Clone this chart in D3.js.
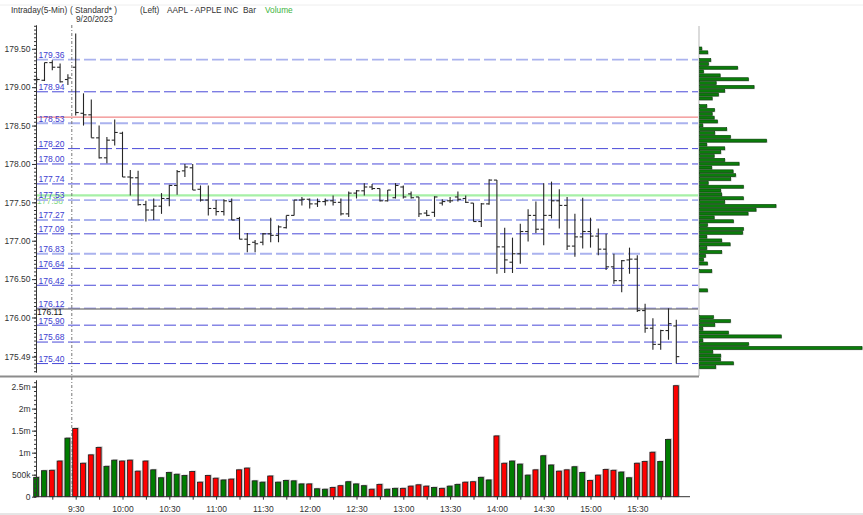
<!DOCTYPE html>
<html><head><meta charset="utf-8">
<script src="https://cdn.jsdelivr.net/npm/d3@7"></script>
<style>body{margin:0;background:#fff;} svg{display:block;font-family:"Liberation Sans",Arial,sans-serif;}</style>
</head><body><svg id="c" width="863" height="515"></svg>
<script>
// ---------- DATA ----------
const times = ("9:05 9:10 9:15 9:20 9:25 9:30 9:35 9:40 9:45 9:50 9:55 " +
 "10:00 10:05 10:10 10:15 10:20 10:25 10:30 10:35 10:40 10:45 10:50 10:55 " +
 "11:00 11:05 11:10 11:15 11:20 11:25 11:30 11:35 11:40 11:45 11:50 11:55 " +
 "12:00 12:05 12:10 12:15 12:20 12:25 12:30 12:35 12:40 12:45 12:50 12:55 " +
 "13:00 13:05 13:10 13:15 13:20 13:25 13:30 13:35 13:40 13:45 13:50 13:55 " +
 "14:00 14:05 14:10 14:15 14:20 14:25 14:30 14:35 14:40 14:45 14:50 14:55 " +
 "15:00 15:05 15:10 15:15 15:20 15:25 15:30 15:35 15:40 15:45 15:50 15:55").split(" ");
const open = [179.10,179.09,179.32,179.26,179.10,179.26,178.66,178.64,178.34,178.08,178.31,178.40,177.83,177.82,177.47,177.40,177.45,177.55,177.72,177.91,177.95,177.67,177.53,177.42,177.38,177.51,177.29,177.02,176.98,176.98,177.09,177.07,177.17,177.33,177.53,177.54,177.48,177.51,177.52,177.50,177.35,177.62,177.65,177.70,177.68,177.52,177.56,177.70,177.61,177.57,177.36,177.37,177.49,177.52,177.57,177.55,177.49,177.25,177.48,177.79,176.92,176.72,176.83,177.12,177.33,177.15,177.33,177.52,177.46,176.93,177.05,177.12,177.06,176.89,176.66,176.48,176.75,176.76,176.09,175.86,175.65,175.83,175.89];
const high = [179.13,179.32,179.35,179.31,179.17,179.70,178.92,178.84,178.50,178.35,178.58,178.42,177.92,177.91,177.52,177.55,177.62,177.73,177.92,178.00,178.00,177.72,177.72,177.53,177.54,177.55,177.31,177.10,177.01,177.10,177.30,177.20,177.33,177.53,177.57,177.55,177.55,177.55,177.59,177.55,177.64,177.66,177.75,177.74,177.68,177.66,177.75,177.72,177.64,177.57,177.40,177.58,177.54,177.57,177.64,177.59,177.49,177.49,177.80,177.79,177.17,177.04,177.22,177.41,177.51,177.75,177.77,177.67,177.57,177.35,177.56,177.30,177.16,177.09,176.83,176.75,176.91,176.81,176.18,175.99,175.84,176.12,175.97];
const low = [179.06,179.08,179.22,179.06,179.03,178.63,178.50,178.34,178.07,178.01,178.24,177.83,177.59,177.46,177.25,177.27,177.35,177.45,177.60,177.83,177.66,177.51,177.33,177.33,177.33,177.27,177.02,176.85,176.85,176.94,176.98,176.98,177.16,177.33,177.46,177.42,177.44,177.46,177.46,177.33,177.31,177.55,177.59,177.66,177.51,177.51,177.55,177.55,177.55,177.31,177.32,177.31,177.46,177.49,177.51,177.49,177.25,177.18,177.47,176.57,176.58,176.58,176.70,176.99,177.10,176.94,177.29,177.16,176.88,176.79,176.90,176.91,176.81,176.62,176.44,176.33,176.57,176.07,175.80,175.58,175.58,175.71,175.40];
const close = [179.10,179.32,179.26,179.07,179.12,178.67,178.64,178.34,178.08,178.31,178.41,177.83,177.82,177.47,177.40,177.45,177.55,177.72,177.90,177.96,177.66,177.53,177.42,177.38,177.52,177.27,177.02,176.95,176.96,177.09,177.07,177.18,177.33,177.53,177.54,177.48,177.51,177.52,177.50,177.35,177.62,177.65,177.70,177.68,177.52,177.66,177.72,177.57,177.56,177.35,177.33,177.57,177.51,177.52,177.54,177.50,177.25,177.48,177.79,176.92,176.75,176.83,177.12,177.33,177.15,177.33,177.52,177.46,176.93,177.05,177.12,177.06,176.89,176.66,176.48,176.74,176.76,176.09,175.86,175.65,175.83,175.92,175.49];
// volume in millions of shares
const volume = [0.44,0.59,0.60,0.81,1.33,1.55,0.76,0.95,1.12,0.69,0.83,0.81,0.83,0.58,0.81,0.61,0.43,0.55,0.51,0.48,0.57,0.33,0.48,0.42,0.38,0.40,0.61,0.65,0.36,0.33,0.47,0.33,0.37,0.36,0.29,0.29,0.18,0.17,0.21,0.25,0.34,0.29,0.25,0.17,0.28,0.17,0.19,0.19,0.24,0.27,0.24,0.21,0.19,0.24,0.28,0.33,0.34,0.44,0.38,1.38,0.76,0.81,0.74,0.49,0.61,0.93,0.72,0.58,0.61,0.68,0.55,0.37,0.49,0.62,0.60,0.56,0.43,0.76,0.80,1.01,0.80,1.30,2.52];
// volume-at-price profile (thousand shares)
const profilePrice = [179.50,179.45,179.35,179.30,179.25,179.20,179.15,179.10,179.05,179.00,178.95,178.90,178.85,178.75,178.70,178.65,178.60,178.55,178.50,178.45,178.40,178.35,178.30,178.25,178.20,178.15,178.10,178.05,178.00,177.95,177.90,177.85,177.80,177.75,177.70,177.65,177.60,177.55,177.50,177.45,177.40,177.35,177.30,177.25,177.20,177.15,177.10,177.05,177.00,176.95,176.90,176.85,176.80,176.75,176.70,176.60,176.35,176.00,175.95,175.90,175.85,175.80,175.75,175.70,175.65,175.60,175.55,175.50,175.45,175.40,175.35];
const profileVol = [23,83,113,90,383,40,207,490,167,547,253,190,127,73,150,127,147,180,33,273,153,310,673,73,253,213,147,253,397,123,337,363,313,87,440,213,223,440,253,767,567,487,147,340,80,440,433,73,223,307,73,223,60,40,80,123,80,140,310,153,33,290,820,33,493,1630,133,213,210,340,163];
// price levels
const levelsDark = [178.94,178.20,178.00,177.74,177.09,176.64,176.42,176.12,175.90,175.68,175.40];
const levelsLight = [179.36,178.53,177.53,177.27,176.83];
const refRed = 178.61, refGreen = 177.59, refLast = 176.11, refGreenLabel = "177.58";
// axes
const priceTicks = [179.50,179.00,178.50,178.00,177.50,177.00,176.50,176.00,175.49];
const volTicks = [0,0.5,1,1.5,2,2.5];
const volTickLabels = ["0","500k","1m","1.5m","2m","2.5m"];
const timeTicks = ["9:15","9:30","9:45","10:00","10:15","10:30","10:45","11:00","11:15","11:30","11:45","12:00","12:15","12:30","12:45","13:00","13:15","13:30","13:45","14:00","14:15","14:30","14:45","15:00","15:15","15:30","15:45"];
const timeLabels = ["9:30","10:00","10:30","11:00","11:30","12:00","12:30","13:00","13:30","14:00","14:30","15:00","15:30"];
const sessionOpen = "9:30";

// ---------- CHART ----------
const svg = d3.select("#c");
const x = d3.scalePoint().domain(times).range([36.7, 676.3]);
const y = d3.scaleLinear().domain([175.29, 179.81]).range([372, 25]);
const yv = d3.scaleLinear().domain([0, 2.65]).range([496.7, 380]);
const xp = d3.scaleLinear().domain([0, d3.max(profileVol)]).range([699.5, 862]);
const TXT = "#333";

// frame lines
svg.append("line").attr("x1",0).attr("x2",863).attr("y1",5).attr("y2",5).attr("stroke","#eeeeee");
svg.append("line").attr("x1",0).attr("x2",863).attr("y1",514).attr("y2",514).attr("stroke","#cccccc");
svg.append("line").attr("x1",699).attr("x2",699).attr("y1",26).attr("y2",376).attr("stroke","#cfcfcf").attr("stroke-width",1.5);

// header
const hdr = [["Intraday(5-Min)",11,TXT],["( Standard* )",70,TXT],["(Left)",140,TXT],["AAPL - APPLE INC",167,TXT],["Bar",243,TXT],["Volume",265,"#3cb43c"]];
hdr.forEach(h=>svg.append("text").attr("x",h[1]).attr("y",13).attr("font-size",8.3).attr("fill",h[2]).text(h[0]));
svg.append("text").attr("x",76).attr("y",21.5).attr("font-size",8.3).attr("fill",TXT).text("9/20/2023");

// green label under lines
svg.append("text").attr("x",37).attr("y",y(refGreen)+8.8).attr("font-size",8.5).attr("fill","#7fd87f").text(refGreenLabel);

// level lines
const L = svg.append("g");
L.selectAll(".lvL").data(levelsLight).join("line")
  .attr("x1",36).attr("x2",698).attr("y1",d=>y(d)).attr("y2",d=>y(d))
  .attr("stroke","#aab2ee").attr("stroke-width",1.8).attr("stroke-dasharray","12,4");
L.selectAll(".lvD").data(levelsDark).join("line")
  .attr("x1",36).attr("x2",698).attr("y1",d=>y(d)).attr("y2",d=>y(d))
  .attr("stroke","#4a4ad8").attr("stroke-width",1).attr("stroke-dasharray","12,4");
L.append("line").attr("x1",36).attr("x2",698).attr("y1",y(refRed)).attr("y2",y(refRed)).attr("stroke","#ee6a6a").attr("stroke-width",1);
L.append("line").attr("x1",36).attr("x2",698).attr("y1",y(refGreen)).attr("y2",y(refGreen)).attr("stroke","#a6f0a6").attr("stroke-width",2.2);
L.append("line").attr("x1",36).attr("x2",698).attr("y1",y(refLast)).attr("y2",y(refLast)).attr("stroke","#8a8a8a").attr("stroke-width",1.5);
// level labels
L.selectAll(".lbl").data(levelsLight.concat(levelsDark)).join("text")
  .attr("x",38.5).attr("y",d=>y(d)-1.6).attr("font-size",8.5).attr("fill","#3d3dd0")
  .text(d=>d.toFixed(2));
L.append("text").attr("x",37).attr("y",y(refLast)+6.4).attr("font-size",8.5).attr("fill","#111").text(refLast.toFixed(2));

// session-open dash-dot line
const xs = (x("9:25")+x(sessionOpen))/2;
svg.append("line").attr("x1",xs).attr("x2",xs).attr("y1",25).attr("y2",497)
  .attr("stroke","#777").attr("stroke-width",1).attr("stroke-dasharray","3,2,1,2");

// volume profile
const P = svg.append("g");
const pdat = profilePrice.map((p,i)=>({p,v:profileVol[i]}));
P.selectAll(".ps").data(pdat).join("rect")
  .attr("x",699.5).attr("y",d=>y(d.p)-1.2).attr("width",d=>Math.max(0,xp(d.v)-699.5)+0.8).attr("height",3.2)
  .attr("fill","#b8b8b8");
P.selectAll(".pb").data(pdat).join("rect")
  .attr("x",699.5).attr("y",d=>y(d.p)-1.8).attr("width",d=>xp(d.v)-699.5).attr("height",3)
  .attr("fill","#0b7d0b").attr("stroke","#063d06").attr("stroke-width",0.6);

// OHLC bars
const bars = times.map((t,i)=>({t,o:open[i],h:high[i],l:low[i],c:close[i],v:volume[i],up: i===0 ? close[i]>=open[i] : close[i]>=close[i-1]}));
const B = svg.append("g").attr("stroke","#262626").attr("stroke-width",1.1);
B.selectAll(".hl").data(bars).join("line")
  .attr("x1",d=>x(d.t)).attr("x2",d=>x(d.t)).attr("y1",d=>y(d.h)).attr("y2",d=>y(d.l));
B.selectAll(".op").data(bars).join("line")
  .attr("x1",d=>x(d.t)-3).attr("x2",d=>x(d.t)).attr("y1",d=>y(d.o)).attr("y2",d=>y(d.o));
B.selectAll(".cl").data(bars).join("line")
  .attr("x1",d=>x(d.t)).attr("x2",d=>x(d.t)+3).attr("y1",d=>y(d.c)).attr("y2",d=>y(d.c));

// price axis
const ax1 = svg.append("g").attr("transform","translate(36,0)")
  .call(d3.axisLeft(y).tickValues(d3.range(175.30,179.81,0.05)).tickSize(2).tickFormat("").tickSizeOuter(0));
const ax2 = svg.append("g").attr("transform","translate(36,0)")
  .call(d3.axisLeft(y).tickValues(priceTicks).tickSize(4).tickPadding(1.5).tickFormat(d3.format(".2f")).tickSizeOuter(0));
[ax1,ax2].forEach(a=>{a.selectAll("path,line").attr("stroke","#333");});
ax2.selectAll("text").attr("font-size",8.5).attr("fill",TXT).attr("font-family","Liberation Sans, Arial, sans-serif");

// panel separator
svg.append("line").attr("x1",0).attr("x2",699).attr("y1",376.5).attr("y2",376.5).attr("stroke","#8c8c8c").attr("stroke-width",2);

// volume bars
const V = svg.append("g");
V.selectAll(".vs").data(bars).join("rect")
  .attr("x",d=>x(d.t)-2).attr("y",d=>yv(d.v)-1).attr("width",5.5).attr("height",d=>yv(0)-yv(d.v)+1)
  .attr("fill","#c2c2c2");
V.selectAll(".vb").data(bars).join("rect")
  .attr("x",d=>x(d.t)-3).attr("y",d=>yv(d.v)).attr("width",5).attr("height",d=>yv(0)-yv(d.v))
  .attr("fill",d=>d.up?"#007d00":"#ff0000").attr("stroke","#1a1a1a").attr("stroke-width",0.8);

// volume axis
const ax3 = svg.append("g").attr("transform","translate(36,0)")
  .call(d3.axisLeft(yv).tickValues(d3.range(0,2.66,0.1)).tickSize(2).tickFormat("").tickSizeOuter(0));
const ax4 = svg.append("g").attr("transform","translate(36,0)")
  .call(d3.axisLeft(yv).tickValues(volTicks).tickSize(4).tickPadding(1.5).tickFormat((d,i)=>volTickLabels[i]).tickSizeOuter(0));
[ax3,ax4].forEach(a=>{a.selectAll("path,line").attr("stroke","#333");});
ax4.selectAll("text").attr("font-size",8.5).attr("fill",TXT).attr("font-family","Liberation Sans, Arial, sans-serif");

// time axis
const ax5 = svg.append("g").attr("transform","translate(0,"+yv(0)+")")
  .call(d3.axisBottom(x).tickValues(timeTicks).tickSize(3).tickPadding(6.6).tickFormat(t=>timeLabels.includes(t)?t:""));
ax5.select(".domain").remove();
ax5.selectAll("line").attr("stroke","#333");
ax5.selectAll("text").attr("font-size",8.5).attr("fill",TXT).attr("font-family","Liberation Sans, Arial, sans-serif");
svg.append("line").attr("x1",36).attr("x2",690).attr("y1",yv(0)).attr("y2",yv(0)).attr("stroke","#333");
</script>
</body></html>
